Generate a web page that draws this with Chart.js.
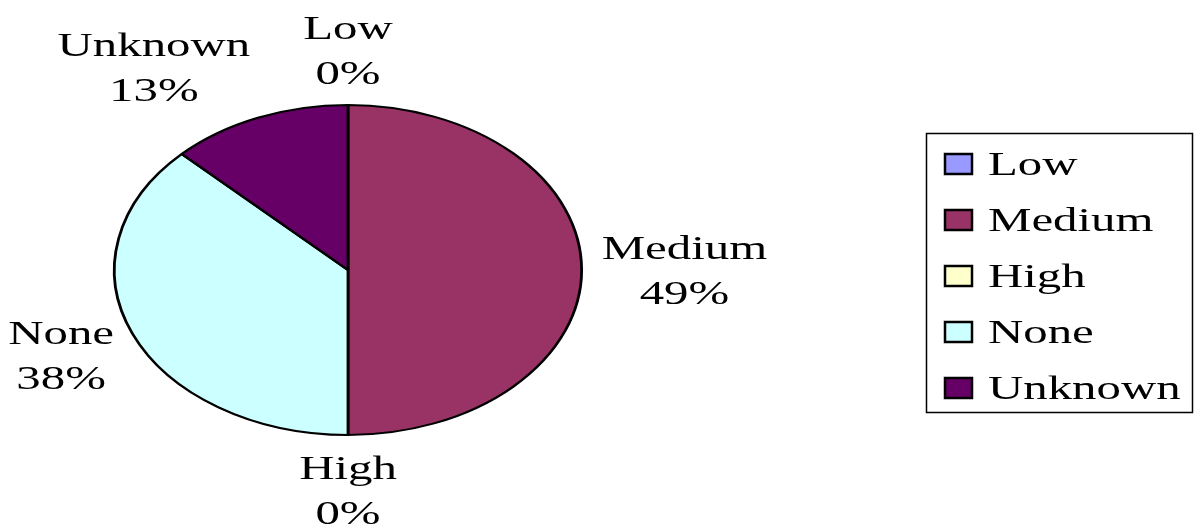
<!DOCTYPE html>
<html>
<head>
<meta charset="utf-8">
<script src="https://cdn.jsdelivr.net/npm/chart.js@4/dist/chart.umd.min.js"></script>
<style>
    html, body { margin: 0; padding: 0; background: #fff; }
    #wrap { width: 1199px; height: 531px; }
    .probe { font-family: "Liberation Serif"; position: absolute; left: -999px; }
</style>
</head>
<body>
<span class="probe">Medium</span>
<div id="wrap"><canvas id="riskPie" width="1199" height="531"></canvas></div>
<script>
// slice data
const categories = ["Low", "Medium", "High", "None", "Unknown"];
const shares = [0, 50, 0, 37.4, 12.6];
const percentLabels = ["0%", "49%", "0%", "38%", "13%"];
const sliceColors = ["#9999FF", "#993366", "#FFFFCC", "#CCFFFF", "#660066"];

const FONT = "33px \"Liberation Serif\", \"Times New Roman\", Tinos, serif";
const TEXT_STRETCH = 1.48;   // the old chart's text is drawn wide
const PIE_STRETCH = 1.416;   // ...and so is the pie (an ellipse)

function wideText(ctx, str, x, y, align) {
    ctx.save();
    ctx.translate(x, y);
    ctx.scale(TEXT_STRETCH, 1);
    ctx.textAlign = align || "center";
    ctx.fillText(str, 0, 0);
    ctx.restore();
}

// squash the circle into an ellipse around the pie centre
const stretchPie = {
    id: "stretchPie",
    beforeDatasetsDraw(chart) {
        const arc = chart.getDatasetMeta(0).data[0];
        const ctx = chart.ctx;
        ctx.save();
        ctx.translate(arc.x, arc.y);
        ctx.scale(PIE_STRETCH, 1);
        ctx.translate(-arc.x, -arc.y);
    },
    afterDatasetsDraw(chart) {
        chart.ctx.restore();
    }
};

// "Name / nn%" labels outside each slice
const sliceLabels = {
    id: "sliceLabels",
    afterDraw(chart) {
        const ctx = chart.ctx;
        const meta = chart.getDatasetMeta(0);
        ctx.save();
        ctx.font = FONT;
        ctx.fillStyle = "#000";
        ctx.textBaseline = "middle";
        meta.data.forEach((arc, i) => {
            const mid = (arc.startAngle + arc.endAngle) / 2 + Math.PI / 2; // 0 = top, clockwise
            const s = Math.sin(mid), c = Math.cos(mid);
            const rx = arc.outerRadius * PIE_STRETCH + 20;
            const ry = arc.outerRadius + 10;
            const px = arc.x + rx * s;
            const py = arc.y - ry * c;
            const w = Math.max(ctx.measureText(categories[i]).width, ctx.measureText(percentLabels[i]).width) * TEXT_STRETCH;
            const lineH = 45;
            const h = lineH * 2;
            const kx = Math.sign(s) * Math.min(1, Math.abs(s) * 3);
            const cx = px + kx * w / 2;
            const cy = py - c * h / 2 + 3;
            wideText(ctx, categories[i], cx, cy - lineH / 2);
            wideText(ctx, percentLabels[i], cx, cy + lineH / 2);
        });
        ctx.restore();
    }
};

// boxed legend on the right
const boxLegend = {
    id: "boxLegend",
    afterDraw(chart) {
        const ctx = chart.ctx;
        const left = 926, top = 133, width = 266, height = 279;
        ctx.save();
        ctx.strokeStyle = "#000";
        ctx.lineWidth = 1.5;
        ctx.strokeRect(left + 0.5, top + 0.5, width, height);
        ctx.font = FONT;
        ctx.fillStyle = "#000";
        ctx.textBaseline = "middle";
        categories.forEach((name, i) => {
            const y = top + 31 + i * 56;
            ctx.fillStyle = sliceColors[i];
            ctx.fillRect(945, y - 10, 27, 20);
            ctx.lineWidth = 2.5;
            ctx.strokeStyle = "#000";
            ctx.strokeRect(945, y - 10, 27, 20);
            ctx.fillStyle = "#000";
            wideText(ctx, name, 988, y + 2, "left");
        });
        ctx.restore();
    }
};

function drawChart() {
    new Chart(document.getElementById("riskPie"), {
        type: "pie",
        data: {
            labels: categories,
            datasets: [{
                data: shares,
                backgroundColor: sliceColors,
                borderColor: "#000",
                borderWidth: 2,
                hoverOffset: 0
            }]
        },
        options: {
            responsive: false,
            animation: false,
            events: [],
            layout: {
                padding: { top: 104, bottom: 95, left: 182, right: 685 }
            },
            plugins: {
                legend: { display: false },
                tooltip: { enabled: false },
                title: { display: false }
            }
        },
        plugins: [stretchPie, sliceLabels, boxLegend]
    });
}

document.fonts.load(FONT, "Medium").then(drawChart, drawChart);
</script>
</body>
</html>
